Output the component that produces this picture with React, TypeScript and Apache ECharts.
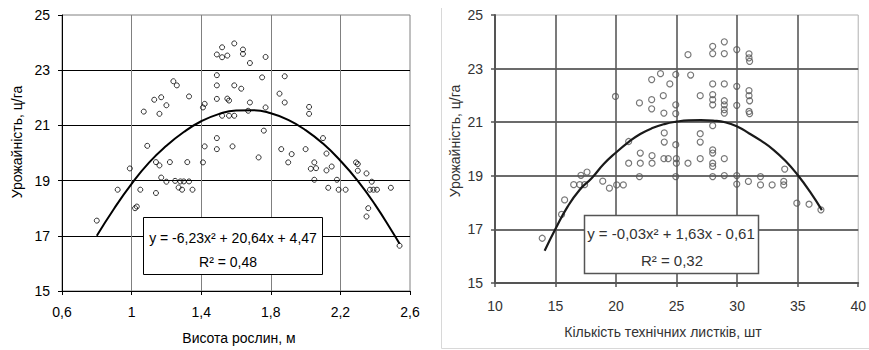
import React, { useEffect, useRef } from 'react';
import * as echarts from 'echarts';

// Left chart: plant height (m) vs yield (c/ha)
const heightX = [0.80, 0.92, 0.99, 1.02, 1.03, 1.05, 1.07, 1.09, 1.13, 1.14, 1.14, 1.16, 1.16, 1.17, 1.17, 1.20, 1.20, 1.22, 1.24, 1.25, 1.26, 1.27, 1.28, 1.29, 1.30, 1.32, 1.33, 1.33, 1.35, 1.41, 1.42, 1.41, 1.42, 1.49, 1.49, 1.49, 1.49, 1.49, 1.49, 1.52, 1.52, 1.52, 1.55, 1.55, 1.56, 1.56, 1.58, 1.59, 1.59, 1.59, 1.63, 1.64, 1.64, 1.68, 1.68, 1.67, 1.73, 1.75, 1.76, 1.77, 1.77, 1.85, 1.86, 1.88, 1.88, 1.90, 1.92, 2.00, 2.02, 2.02, 2.03, 2.05, 2.05, 2.06, 2.10, 2.12, 2.12, 2.13, 2.15, 2.18, 2.19, 2.23, 2.29, 2.30, 2.30, 2.35, 2.35, 2.36, 2.37, 2.38, 2.39, 2.41, 2.49, 2.54];
const heightYield = [17.55, 18.67, 19.44, 18.00, 18.06, 18.67, 21.50, 20.26, 21.93, 18.55, 19.67, 19.55, 21.42, 22.02, 19.11, 21.73, 18.96, 19.67, 22.60, 18.99, 22.45, 18.75, 18.97, 18.67, 18.97, 19.67, 22.05, 18.97, 18.67, 21.65, 21.78, 19.66, 20.24, 23.57, 22.82, 22.45, 21.96, 20.54, 20.14, 23.47, 23.83, 21.35, 23.53, 21.97, 21.90, 21.35, 20.24, 23.97, 22.45, 21.35, 22.33, 23.75, 23.59, 23.26, 21.83, 21.53, 19.84, 22.74, 20.81, 23.48, 21.65, 22.15, 20.14, 22.78, 21.83, 19.66, 19.96, 20.14, 21.67, 21.42, 19.43, 19.66, 19.03, 19.45, 20.54, 19.98, 19.37, 18.74, 19.51, 19.03, 18.67, 18.67, 19.66, 19.60, 19.36, 19.26, 17.70, 18.00, 18.67, 18.96, 18.67, 18.67, 18.74, 16.64];
const heightTrendX = [0.8, 0.9, 1.0, 1.1, 1.2, 1.3, 1.4, 1.5, 1.6, 1.7, 1.8, 1.9, 2.0, 2.1, 2.2, 2.3, 2.4, 2.5, 2.54];
const heightTrendY = [17.00, 17.99, 18.88, 19.65, 20.26, 20.76, 21.15, 21.41, 21.54, 21.55, 21.44, 21.20, 20.83, 20.34, 19.72, 18.99, 18.12, 17.13, 16.71];

// Right chart: number of technical leaves vs yield (c/ha)
const leafX = [13.9, 15.5, 15.75, 16.5, 17.0, 17.4, 17.1, 17.6, 18.9, 19.45, 20.05, 20.6, 19.95, 21.04, 21.04, 21.93, 22.0, 22.0, 21.93, 22.94, 22.94, 22.94, 22.97, 22.97, 23.67, 24.44, 23.90, 23.95, 23.98, 23.98, 23.95, 24.31, 24.93, 24.93, 24.93, 24.93, 24.98, 24.98, 24.93, 25.94, 26.16, 25.94, 26.95, 26.95, 26.95, 26.95, 27.98, 27.98, 28.94, 28.94, 29.97, 30.98, 30.98, 31.03, 27.98, 28.94, 29.97, 30.98, 30.98, 31.03, 27.98, 27.98, 27.98, 28.94, 28.94, 28.94, 28.94, 29.97, 30.98, 31.03, 27.98, 27.98, 27.98, 27.98, 27.98, 28.94, 27.98, 28.94, 29.97, 29.97, 30.93, 31.93, 31.93, 32.89, 33.85, 33.85, 33.93, 34.93, 35.94, 36.92];
const leafYield = [16.67, 17.56, 18.10, 18.67, 18.67, 18.67, 19.02, 19.14, 18.80, 18.54, 18.66, 18.66, 21.96, 20.28, 19.47, 21.72, 19.85, 19.47, 18.97, 22.59, 21.84, 21.50, 19.75, 19.47, 22.81, 22.43, 21.99, 21.34, 20.60, 20.26, 19.64, 19.64, 22.78, 21.65, 21.32, 20.16, 19.64, 19.47, 18.97, 23.52, 22.76, 19.47, 21.99, 20.57, 20.26, 19.64, 23.83, 23.56, 24.00, 23.56, 23.71, 23.55, 23.40, 23.27, 22.43, 22.43, 22.34, 22.18, 21.99, 21.80, 22.03, 21.84, 21.65, 21.80, 21.65, 21.47, 21.34, 21.63, 21.40, 21.32, 20.87, 19.97, 19.85, 19.47, 19.35, 19.64, 18.97, 19.01, 19.01, 18.69, 18.79, 18.97, 18.66, 18.66, 18.79, 18.66, 19.25, 17.98, 17.94, 17.73];
const leafTrendX = [14.1, 15, 16, 17, 18, 19, 20, 21, 22, 23, 24, 25, 26, 27, 28, 29, 30, 31, 32, 33, 34, 35, 36, 37];
const leafTrendY = [16.20, 17.02, 17.85, 18.48, 18.92, 19.45, 19.87, 20.25, 20.56, 20.78, 20.93, 21.02, 21.07, 21.08, 21.06, 21.00, 20.84, 20.58, 20.30, 19.97, 19.55, 19.03, 18.42, 17.72];

const yTicks = [15, 17, 19, 21, 23, 25];

const FONT = "'Liberation Sans', Arial, sans-serif";

const zip = (xs: number[], ys: number[]) => xs.map((x, i) => [x, ys[i]]);
const fmt = (v: number) => String(Math.round(v * 10) / 10).replace('.', ',');

export default function App() {
  const ref = useRef<HTMLDivElement>(null);
  useEffect(() => {
    document.body.style.margin = '0';
    if (!ref.current) return;
    const chart = echarts.init(ref.current, undefined, { renderer: 'svg' });
    const leftLabel = { fontFamily: FONT, fontSize: 14, color: '#000' };
    const rightLabel = { fontFamily: FONT, fontSize: 14, color: '#333' };
    chart.setOption({
      animation: false,
      backgroundColor: '#fff',
      grid: [
        { left: 62, top: 15, width: 348, height: 276, show: true, borderColor: '#808080', borderWidth: 1, backgroundColor: 'transparent' },
        { left: 495, top: 15, width: 367, height: 268, show: true, borderColor: '#b0b0b0', borderWidth: 1, backgroundColor: 'transparent' },
      ],
      xAxis: [
        {
          gridIndex: 0, type: 'value', min: 0.6, max: 2.6, interval: 0.4,
          axisLine: { show: true, onZero: false, lineStyle: { color: '#000', width: 1 } },
          axisTick: { show: true, inside: false, length: 4, lineStyle: { color: '#000' } },
          axisLabel: { ...leftLabel, margin: 14, formatter: fmt },
          splitLine: { show: true, showMinLine: false, showMaxLine: false, lineStyle: { color: '#808080', width: 1 } },
        },
        {
          gridIndex: 1, type: 'value', min: 10, max: 40, interval: 5,
          axisLine: { show: true, onZero: false, lineStyle: { color: '#555', width: 2 } },
          axisTick: { show: true, inside: false, length: 4, lineStyle: { color: '#555', width: 1.5 } },
          axisLabel: { ...rightLabel, margin: 16 },
          splitLine: { show: true, showMinLine: false, showMaxLine: false, lineStyle: { color: '#5a5a5a', width: 1.6 } },
        },
      ],
      yAxis: [
        {
          gridIndex: 0, type: 'value', min: 15, max: 25, interval: 2,
          axisLine: { show: true, onZero: false, lineStyle: { color: '#000', width: 1 } },
          axisTick: { show: true, inside: false, length: 4, lineStyle: { color: '#000' } },
          axisLabel: { ...leftLabel, margin: 12, formatter: (v: number) => (yTicks.includes(v) ? String(v) : '') },
          splitLine: { show: true, showMinLine: false, showMaxLine: false, lineStyle: { color: '#000', width: 1 } },
        },
        {
          gridIndex: 1, type: 'value', min: 15, max: 25, interval: 2,
          axisLine: { show: true, onZero: false, lineStyle: { color: '#555', width: 2 } },
          axisTick: { show: true, inside: false, length: 4, lineStyle: { color: '#555', width: 1.5 } },
          axisLabel: { ...rightLabel, margin: 12 },
          splitLine: { show: true, showMinLine: false, showMaxLine: false, lineStyle: { color: '#3a3a3a', width: 1.6 } },
        },
      ],
      series: [
        {
          type: 'scatter', xAxisIndex: 0, yAxisIndex: 0, data: zip(heightX, heightYield),
          symbol: 'circle', symbolSize: 5, silent: true,
          itemStyle: { color: 'transparent', borderColor: '#000', borderWidth: 1 },
        },
        {
          type: 'line', xAxisIndex: 0, yAxisIndex: 0, data: zip(heightTrendX, heightTrendY),
          showSymbol: false, smooth: true, silent: true,
          lineStyle: { color: '#000', width: 2 },
        },
        {
          type: 'scatter', xAxisIndex: 1, yAxisIndex: 1, data: zip(leafX, leafYield),
          symbol: 'circle', symbolSize: 6, silent: true,
          itemStyle: { color: 'transparent', borderColor: '#555', borderWidth: 1.2 },
        },
        {
          type: 'line', xAxisIndex: 1, yAxisIndex: 1, data: zip(leafTrendX, leafTrendY),
          showSymbol: false, smooth: true, silent: true,
          lineStyle: { color: '#1a1a1a', width: 2.2 },
        },
      ],
      graphic: [
        { type: 'line', shape: { x1: 441.5, y1: 8, x2: 441.5, y2: 348.5 }, style: { stroke: '#d8d8d8', lineWidth: 1 }, silent: true },
        { type: 'line', shape: { x1: 441.5, y1: 348.5, x2: 869, y2: 348.5 }, style: { stroke: '#d8d8d8', lineWidth: 1 }, silent: true },
        { type: 'text', x: 17, y: 142, rotation: Math.PI / 2, style: { text: 'Урожайність, ц/га', font: `14px ${FONT}`, fill: '#000', textAlign: 'center', textVerticalAlign: 'middle' } },
        { type: 'text', x: 239, y: 338, style: { text: 'Висота рослин, м', font: `14px ${FONT}`, fill: '#000', textAlign: 'center', textVerticalAlign: 'middle' } },
        { type: 'rect', shape: { x: 143.5, y: 217.5, width: 179, height: 57 }, style: { fill: '#fff', stroke: '#000', lineWidth: 1 }, z: 10 },
        { type: 'text', x: 233, y: 238, z: 11, style: { text: 'y = -6,23x² + 20,64x + 4,47', font: `14px ${FONT}`, fill: '#000', textAlign: 'center', textVerticalAlign: 'middle' } },
        { type: 'text', x: 228, y: 262, z: 11, style: { text: 'R² = 0,48', font: `14px ${FONT}`, fill: '#000', textAlign: 'center', textVerticalAlign: 'middle' } },
        { type: 'text', x: 455, y: 141, rotation: Math.PI / 2, style: { text: 'Урожайність, ц/га', font: `14px ${FONT}`, fill: '#333', textAlign: 'center', textVerticalAlign: 'middle' } },
        { type: 'text', x: 663, y: 332, style: { text: 'Кількість технічних листків, шт', font: `14px ${FONT}`, fill: '#333', textAlign: 'center', textVerticalAlign: 'middle' } },
        { type: 'rect', shape: { x: 584.5, y: 215.5, width: 174, height: 58 }, style: { fill: '#fff', stroke: '#555', lineWidth: 1.5 }, z: 10 },
        { type: 'text', x: 671, y: 233, z: 11, style: { text: 'y = -0,03x² + 1,63x - 0,61', font: `15px ${FONT}`, fill: '#333', textAlign: 'center', textVerticalAlign: 'middle' } },
        { type: 'text', x: 672, y: 260, z: 11, style: { text: 'R² = 0,32', font: `15px ${FONT}`, fill: '#333', textAlign: 'center', textVerticalAlign: 'middle' } },
      ],
    });
    return () => chart.dispose();
  }, []);
  return <div ref={ref} style={{ width: 869, height: 350 }} />;
}
